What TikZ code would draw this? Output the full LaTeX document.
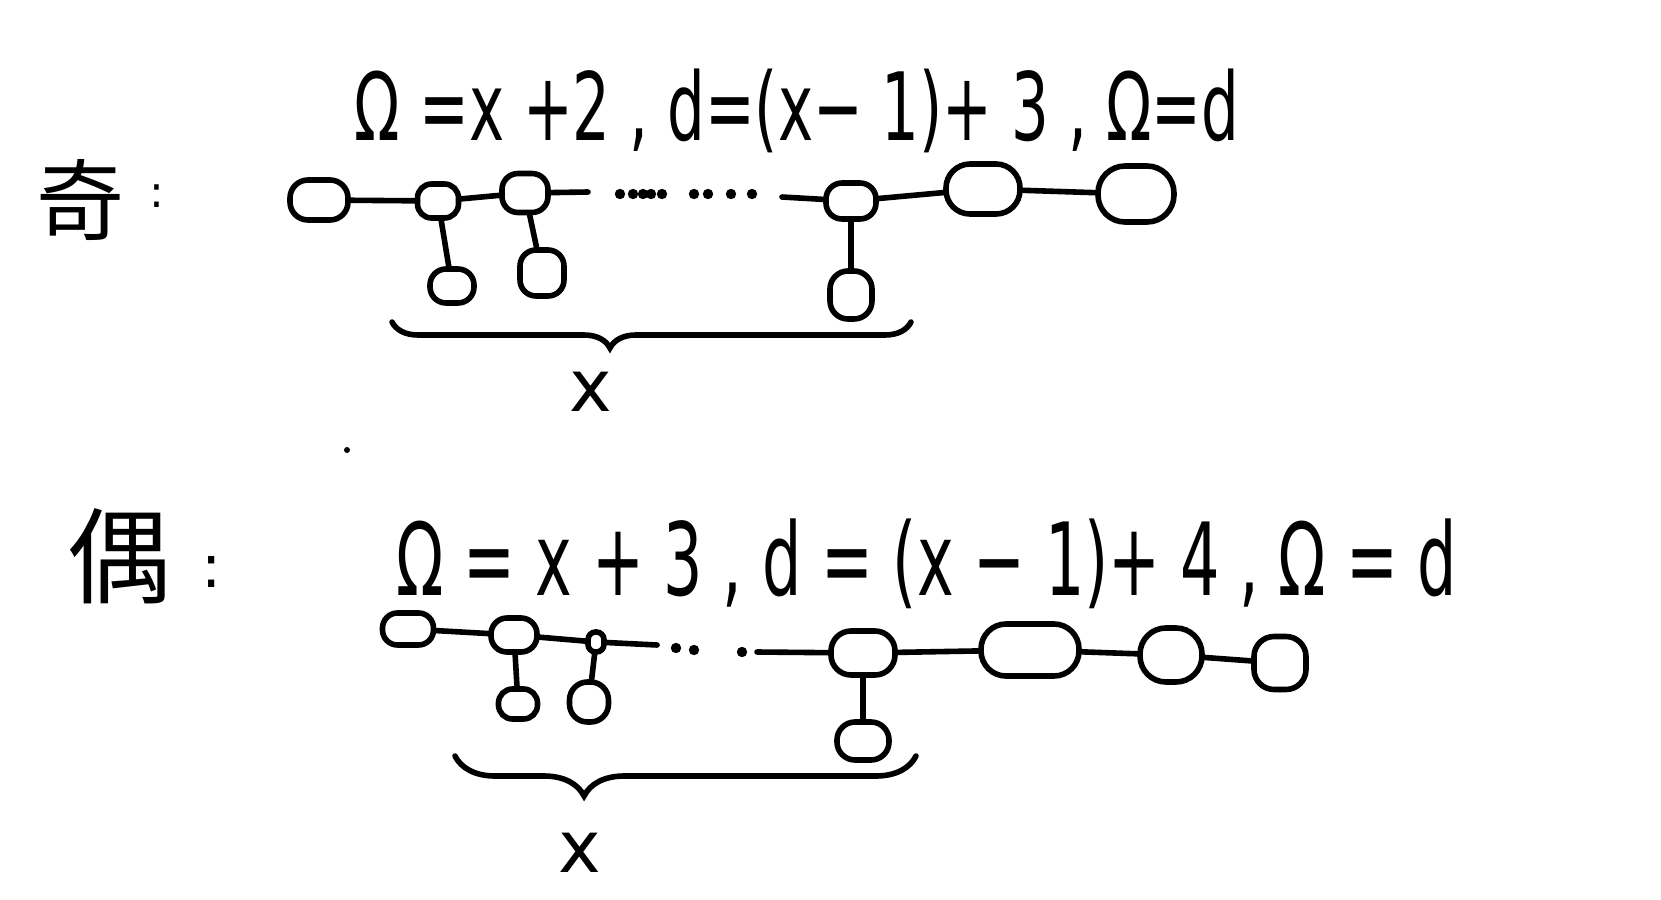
\documentclass[tikz,border=0pt]{standalone}
\usepackage{fontspec}
\newfontfamily\cjk{Noto Sans CJK SC}
\newfontfamily\hand{DejaVu Sans}
\usetikzlibrary{decorations.pathreplacing}
\begin{document}
\begin{tikzpicture}[x=0.5pt,y=-0.5pt,
  ring/.style={draw, line width=2.8pt, rounded corners=8pt, inner sep=0pt},
  link/.style={line width=2.8pt, line cap=round},
  lbl/.style={inner sep=0pt},
  bracepath/.style={line width=2.8pt, line cap=round, decorate}]
\useasboundingbox[fill=white] (0,0) rectangle (1661,900);

% labels
\node[lbl] (qi) at (80,200) {\cjk\fontsize{44}{44}\selectfont 奇};
\node[lbl] (qic) at (157,196) {\hand\fontsize{22}{22}\selectfont :};
\node[lbl] (ou) at (120,556) {\cjk\fontsize{52}{52}\selectfont 偶};
\node[lbl] (ouc) at (212,572) {\hand\fontsize{30}{30}\selectfont :};

% formulas
\node[lbl] (f1) at (797,111) {\resizebox*{442pt}{42pt}{\hand Ω =x +2 , d=(x− 1)+ 3 , Ω=d}};
\node[lbl] (f2) at (927,564) {\resizebox*{530pt}{45pt}{\hand Ω = x + 3 , d = (x − 1)+ 4 , Ω = d}};

% top chain
\node[ring, minimum width=29pt, minimum height=20pt, rounded corners=9pt] (n1) at (319,200) {};
\node[ring, minimum width=20.5pt, minimum height=17pt, rounded corners=7pt] (n2) at (438,201) {};
\node[ring, minimum width=23pt, minimum height=19.5pt, rounded corners=8pt] (n3) at (525,193) {};
\node[ring, minimum width=25pt, minimum height=18pt, rounded corners=8pt] (n4) at (851,201) {};
\node[ring, minimum width=37pt, minimum height=25pt, rounded corners=12pt] (n5) at (983,189) {};
\node[ring, minimum width=38pt, minimum height=28pt, rounded corners=13.5pt] (n6) at (1136,194) {};
\node[ring, minimum width=22pt, minimum height=17pt, rounded corners=8pt] (b1) at (452,286) {};
\node[ring, minimum width=22pt, minimum height=23pt, rounded corners=8pt] (b2) at (542,273) {};
\node[ring, minimum width=21pt, minimum height=24pt, rounded corners=9pt] (b4) at (851,295) {};

\draw[link] (n1) -- (n2);
\draw[link] (n2) -- (n3);
\coordinate (d1) at (588,192);
\coordinate (d2) at (782,197);
\draw[link] (n3) -- (d1);
\foreach \x in {620,633,643,651,662,694,708,731,752}
  \fill (\x,194) circle (2.6pt);
\draw[link] (d2) -- (n4);
\draw[link] (n4) -- (n5);
\draw[link] (n5) -- (n6);
\draw[link] (n2) -- (b1);
\draw[link] (n3) -- (b2);
\draw[link] (n4) -- (b4);

% top brace
\coordinate (tb1) at (392,322);
\coordinate (tb2) at (911,322);
\draw[bracepath, decoration={brace, mirror, amplitude=13pt, aspect=0.42}] (tb1) -- (tb2);
\node[lbl] (x1) at (591,392) {\hand\fontsize{36}{36}\selectfont x};

% stray dot
\fill (347,450) circle (1.5pt);

% bottom chain
\node[ring, minimum width=25.5pt, minimum height=16pt, rounded corners=7.5pt] (m1) at (408,629) {};
\node[ring, minimum width=23pt, minimum height=17pt, rounded corners=8pt] (m2) at (514,635) {};
\node[ring, minimum width=8pt, minimum height=10pt, rounded corners=3.8pt] (m3) at (596,642) {};
\node[ring, minimum width=32pt, minimum height=22pt, rounded corners=10pt] (m4) at (863,653) {};
\node[ring, minimum width=49pt, minimum height=26pt, rounded corners=12.5pt] (m5) at (1030,650) {};
\node[ring, minimum width=31pt, minimum height=27pt, rounded corners=13pt] (m6) at (1171,655) {};
\node[ring, minimum width=26pt, minimum height=26.5pt, rounded corners=10pt] (m7) at (1280,663) {};
\node[ring, minimum width=19.5pt, minimum height=15pt, rounded corners=7pt] (c2) at (518,704) {};
\node[ring, minimum width=19.5pt, minimum height=20pt, rounded corners=9pt] (c3) at (589,702) {};
\node[ring, minimum width=26pt, minimum height=19pt, rounded corners=9pt] (c4) at (863,741) {};

\draw[link] (m1) -- (m2);
\draw[link] (m2) -- (m3);
\coordinate (e1) at (657,645);
\coordinate (e2) at (757,652);
\draw[link] (m3) -- (e1);
\foreach \x/\y in {676/648,694/650,742/652}
  \fill (\x,\y) circle (2.6pt);
\draw[link] (e2) -- (m4);
\draw[link] (m4) -- (m5);
\draw[link] (m5) -- (m6);
\draw[link] (m6) -- (m7);
\draw[link] (m2) -- (c2);
\draw[link] (m3) -- (c3);
\draw[link] (m4) -- (c4);

% bottom brace
\coordinate (bb1) at (455,756);
\coordinate (bb2) at (916,756);
\draw[bracepath, decoration={brace, mirror, amplitude=20pt, aspect=0.28}] (bb1) -- (bb2);
\node[lbl] (x2) at (580,853) {\hand\fontsize{36}{36}\selectfont x};
\end{tikzpicture}
\end{document}
